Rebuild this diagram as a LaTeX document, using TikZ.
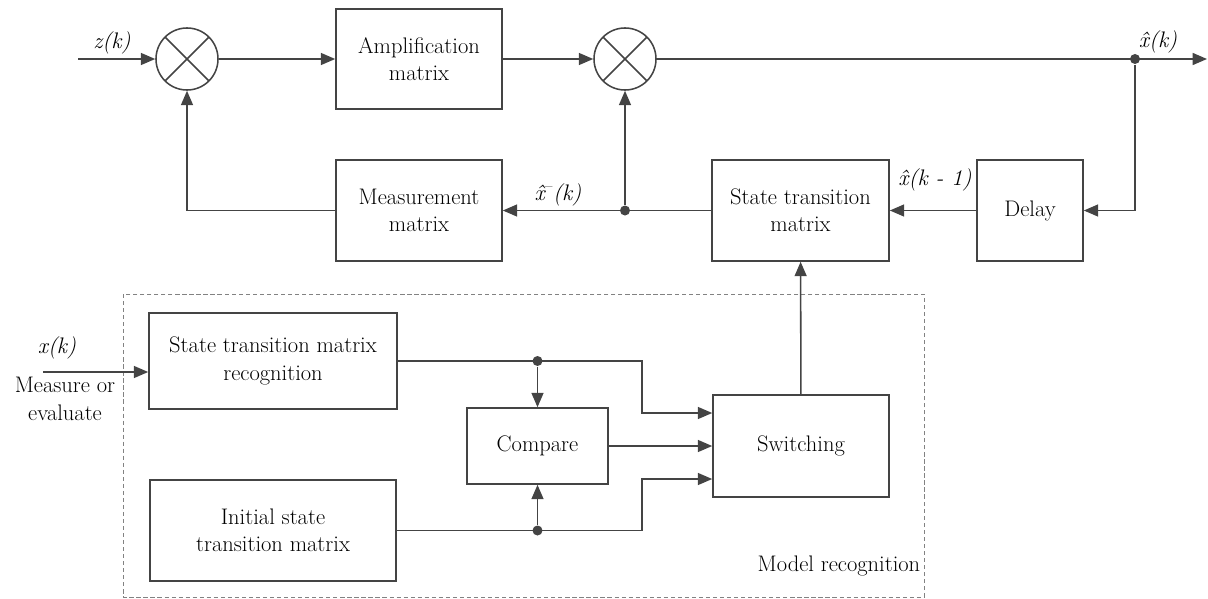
\documentclass[tikz,border=0pt]{standalone}
\usetikzlibrary{arrows.meta,calc}
\definecolor{linec}{RGB}{68,68,68}
\definecolor{framec}{RGB}{130,130,130}

\begin{document}
\begin{tikzpicture}[x=0.025cm,y=-0.025cm,color=linec,line width=1.1pt,
  >={Triangle[length=0.36cm,width=0.3cm]},
  blk/.style={draw,rectangle,inner sep=0pt,align=center,text=black,font=\rmfamily\fontsize{16}{19.5}\selectfont},
  mixer/.style={draw,circle,inner sep=0pt,minimum size=1.55cm,
    path picture={\draw (path picture bounding box.north west)--(path picture bounding box.south east)
      (path picture bounding box.south west)--(path picture bounding box.north east);}},
  lbl/.style={text=black,font=\rmfamily\fontsize{16}{19.5}\selectfont\itshape},
  jdot/.style={circle,fill=linec,inner sep=0pt,minimum size=0.25cm}]
\useasboundingbox (0,0) rectangle (1208,598);
%\draw[help lines] (0,0) grid[step=1cm] (1208,598);
\draw[framec,line width=0.6pt,dash pattern=on 3pt off 2pt] (123,294) rectangle (924,597);

\node[mixer] (s1) at (187,59) {};
\node[mixer] (s2) at (625,59) {};
\node[blk,minimum width=4.15cm,minimum height=2.5cm] (amp) at (419,59) {Amplification\\matrix};
\node[blk,minimum width=4.15cm,minimum height=2.525cm] (meas) at (419,210.5) {Measurement\\matrix};
\node[blk,minimum width=4.425cm,minimum height=2.525cm] (stm) at (800.5,210.5) {State transition\\matrix};
\node[blk,minimum width=2.65cm,minimum height=2.525cm] (delay) at (1030,210.5) {Delay};
\node[blk,minimum width=6.2cm,minimum height=2.4cm] (rec) at (273,361) {State transition matrix\\recognition};
\node[blk,minimum width=6.15cm,minimum height=2.525cm] (init) at (273,530.5) {Initial state\\transition matrix};
\node[blk,minimum width=3.525cm,minimum height=1.9cm] (cmp) at (537.5,446) {Compare};
\node[blk,minimum width=4.4cm,minimum height=2.55cm] (sw) at (801,446) {Switching};

\coordinate (zin) at (78,59);
\coordinate (out) at (1207,59);
\coordinate (xin) at (43,372);
\node[jdot] (tap1) at (1135,59) {};
\node[jdot] (tap2) at (625,210.5) {};
\node[jdot] (tapA) at (rec.east -| cmp.north) {};
\node[jdot] (tapB) at (init.east -| cmp.south) {};
\coordinate (bendA) at ($(sw.west |- rec.east)+(-70,0)$);
\coordinate (bendB) at ($(sw.west |- init.east)+(-70,0)$);

\draw[->] (zin) -- (s1);
\draw[->] (s1) -- (amp);
\draw[->] (amp) -- (s2);
\draw[->] (s2) -- (out);
\draw[->] (tap1) |- (delay.east);
\draw[->] (delay) -- (stm);
\draw[->] (stm.west) -- (meas.east);
\draw[->] (tap2) -- (s2);
\draw[->] (meas.west) -| (s1.south);
\draw[->] (sw) -- (stm);
\draw[->] (xin) -- (xin -| rec.west);
\draw[->] (rec.east) -- (bendA) |- ($(sw.west)+(0,-33)$);
\draw[->] (init.east) -- (bendB) |- ($(sw.west)+(0,33)$);
\draw[->] (tapA) -- (cmp.north);
\draw[->] (tapB) -- (cmp.south);
\draw[->] (cmp) -- (sw);

\node[lbl] (zlab) at (112,43) {z(k)};
\node[lbl] (xlab) at (1158,42) {\^{x}(k)};
\node[lbl] (xdlab) at (935,180) {\^{x}(k - 1)};
\node[lbl] (xmlab) at (558,195) {\^{x}\textsuperscript{\upshape --}(k)};
\node[lbl] (xklab) at (57,348) {x(k)};
\node[blk,draw=none] (mlab) at (65,399) {Measure or\\evaluate};
\node[blk,draw=none,anchor=east] (mrlab) at (921,566) {Model recognition};
\end{tikzpicture}
\end{document}
